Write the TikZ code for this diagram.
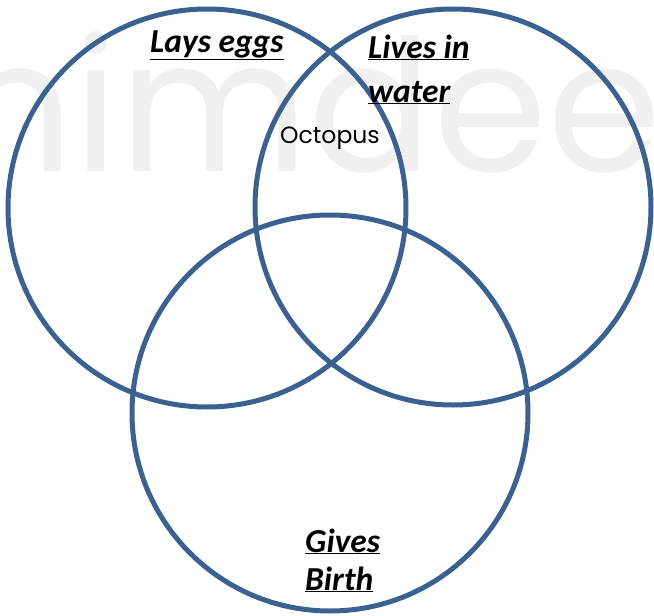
\documentclass[tikz,border=0pt]{standalone}
\usepackage{fontspec}
\setmainfont{Carlito}
\newfontfamily\wordfont{Poppins}
\usepackage{tikz}
\usetikzlibrary{positioning}
\definecolor{vennblue}{HTML}{3A6190}
\definecolor{wmgray}{HTML}{F0F0F0}

\begin{document}
\begin{tikzpicture}[x=1pt, y=-1pt,
  ring/.style={draw=vennblue, line width=5pt},
  tag/.style={font=\fontsize{33.5}{44}\selectfont\bfseries\itshape, align=left, inner sep=0pt, anchor=base west},
  entry/.style={font=\wordfont\fontsize{23.5}{30}\selectfont, inner sep=0pt, anchor=base west}
]
\useasboundingbox (0,0) rectangle (654,616);
\clip (0,0) rectangle (654,616);
% faint watermark behind the sets
\node[font=\wordfont\fontsize{184}{184}\selectfont, text=wmgray, inner sep=0pt, anchor=base west] (wm) at (-44,171) {nimdee};
% the three sets
\draw[ring] (207,208) circle[radius=199];
\draw[ring] (453,207) circle[radius=198];
\draw[ring] (330,413) circle[radius=198];
% set names (base = last line)
\node[tag] (eggs) at (150,52) {\underline{Lays eggs}};
\node[tag] (water) at (368,102) {\underline{Lives in}\\\underline{water}};
\node[tag, font=\fontsize{33.5}{38}\selectfont\bfseries\itshape] (birth) at (305,590) {\underline{Gives}\\\underline{Birth}};
% members
\node[entry] (octopus) at (280,143) {Octopus};
\end{tikzpicture}
\end{document}
